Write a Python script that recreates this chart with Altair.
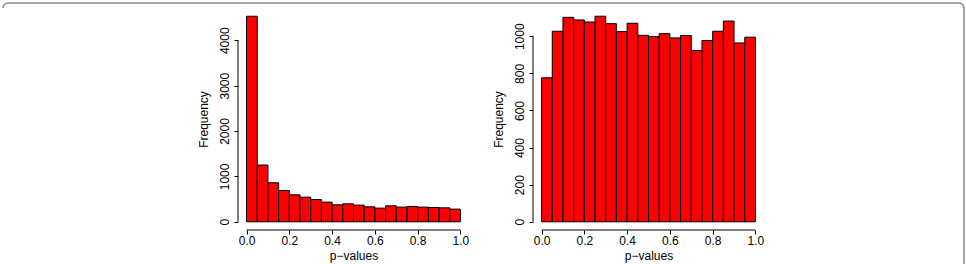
import altair as alt
import pandas as pd

# ---- data -------------------------------------------------------------
bin_lo = [0.00, 0.05, 0.10, 0.15, 0.20, 0.25, 0.30, 0.35, 0.40, 0.45,
          0.50, 0.55, 0.60, 0.65, 0.70, 0.75, 0.80, 0.85, 0.90, 0.95]
bin_hi = [0.05, 0.10, 0.15, 0.20, 0.25, 0.30, 0.35, 0.40, 0.45, 0.50,
          0.55, 0.60, 0.65, 0.70, 0.75, 0.80, 0.85, 0.90, 0.95, 1.00]
left_counts = [4530, 1250, 860, 690, 594, 543, 491, 433, 374, 396,
               367, 330, 301, 352, 323, 337, 323, 315, 308, 279]
right_counts = [776, 1027, 1102, 1088, 1077, 1108, 1068, 1025, 1070, 1005,
                998, 1014, 991, 1004, 923, 977, 1027, 1082, 964, 995]
x_ticks = [0.0, 0.2, 0.4, 0.6, 0.8, 1.0]
left_y_ticks = [0, 1000, 2000, 3000, 4000]
right_y_ticks = [0, 200, 400, 600, 800, 1000]
x_title = "p\u2212values"
y_title = "Frequency"

FONT = "Liberation Sans"
FS = 12
W, H = 231, 222
BORDER = "#8a8a8a"


def panel(counts, yticks, with_border=False):
    df = pd.DataFrame({"lo": bin_lo, "hi": bin_hi, "count": counts})
    ymax = max(counts)
    yscale = alt.Scale(domain=[-0.04 * ymax, 1.04 * ymax], nice=False, zero=False)
    xscale = alt.Scale(domain=[-0.04, 1.04], nice=False, zero=False)

    bars = alt.Chart(df).mark_rect(
        fill="#FF0000", stroke="black", strokeWidth=1
    ).encode(
        x=alt.X("lo:Q", scale=xscale, axis=alt.Axis(
            values=x_ticks, format=".1f", title=x_title, domain=False,
            grid=False, tickSize=4, tickColor="black", tickWidth=1,
            labelPadding=1, labelFontSize=FS, labelFont=FONT, labelColor="black",
            titleFont=FONT, titleFontSize=FS, titleFontWeight="normal",
            titleColor="black", titlePadding=4)),
        x2="hi:Q",
        y=alt.Y("count:Q", scale=yscale, axis=alt.Axis(
            values=yticks, format="d", title=y_title, domain=False,
            grid=False, tickSize=4, tickColor="black", tickWidth=1,
            labelAngle=270, labelAlign="center", labelBaseline="bottom",
            labelPadding=3, labelFontSize=FS, labelFont=FONT, labelColor="black",
            titleFont=FONT, titleFontSize=FS, titleFontWeight="normal",
            titleColor="black", titlePadding=8)),
        y2=alt.datum(0),
    )

    one = alt.Data(values=[{"a": 1}])
    xaxis_line = alt.Chart(pd.DataFrame({"a": [x_ticks[0]], "b": [x_ticks[-1]]})).mark_rule(
        color="black", strokeWidth=1
    ).encode(x=alt.X("a:Q", scale=xscale), x2="b:Q", y=alt.value(H))
    yaxis_line = alt.Chart(pd.DataFrame({"a": [yticks[0]], "b": [yticks[-1]]})).mark_rule(
        color="black", strokeWidth=1
    ).encode(y=alt.Y("a:Q", scale=yscale), y2="b:Q", x=alt.value(0))

    layers = [bars, xaxis_line, yaxis_line]
    if with_border:
        ox, oy = 237, 7
        top = alt.Chart(one).mark_rule(color=BORDER, strokeWidth=1.5).encode(
            x=alt.value(7 - ox), x2=alt.value(958 - ox), y=alt.value(2 - oy))
        right = alt.Chart(one).mark_rule(color=BORDER, strokeWidth=1.5).encode(
            x=alt.value(963 - ox), y=alt.value(7 - oy), y2=alt.value(270 - oy))
        arc_tl = alt.Chart(one).mark_arc(
            color=BORDER, radius=5.75, radius2=4.25,
            theta=4.71238898, theta2=6.28318531).encode(
            x=alt.value(7 - ox), y=alt.value(7 - oy))
        arc_tr = alt.Chart(one).mark_arc(
            color=BORDER, radius=5.75, radius2=4.25,
            theta=0, theta2=1.57079633).encode(
            x=alt.value(958 - ox), y=alt.value(7 - oy))
        layers += [top, right, arc_tl, arc_tr]

    return alt.layer(*layers).properties(
        width=W, height=H, view=alt.ViewBackground(strokeWidth=0, stroke="transparent"))


left = panel(left_counts, left_y_ticks, with_border=True)
right = panel(right_counts, right_y_ticks)

chart = alt.hconcat(left, right, spacing=64, bounds="flush").resolve_scale(
    x="independent", y="independent"
).properties(
    padding={"left": 2, "top": 2, "right": 0, "bottom": 0}
).configure_view(strokeWidth=0, stroke="transparent").configure(background="white")

chart.save("out.html", embed_options={"renderer": "svg", "actions": False})
